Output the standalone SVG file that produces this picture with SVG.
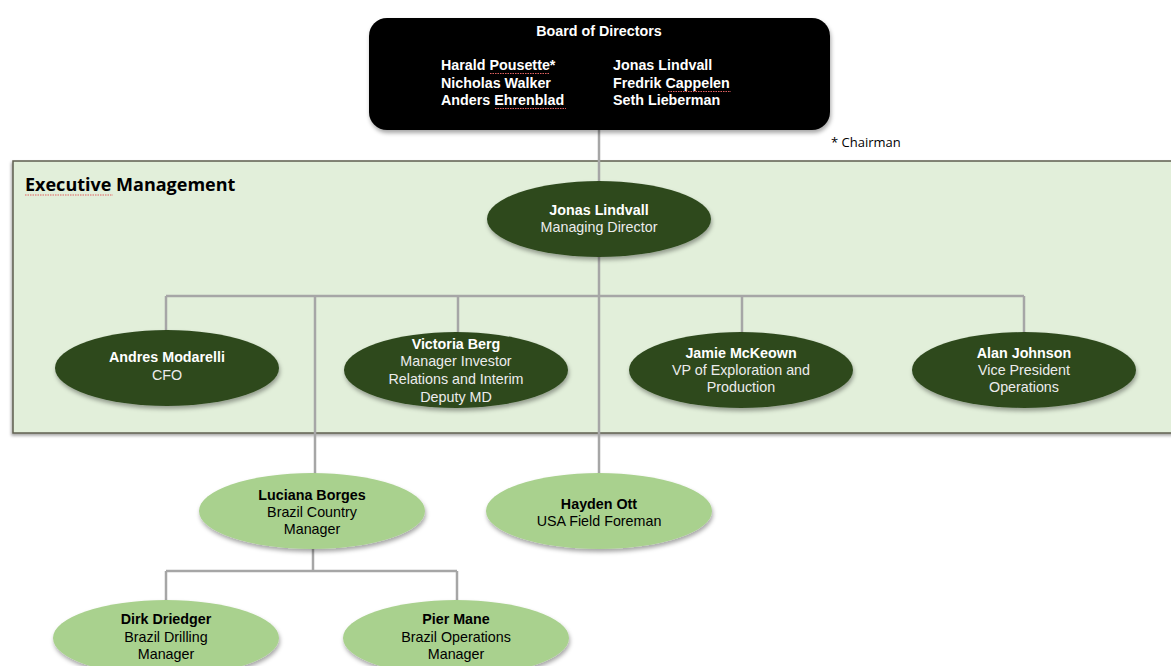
<svg xmlns="http://www.w3.org/2000/svg" width="1171" height="666" viewBox="0 0 1171 666">
<defs>
<filter id="sh" x="-20%" y="-20%" width="140%" height="150%">
<feDropShadow dx="1" dy="3" stdDeviation="2" flood-color="#000" flood-opacity="0.35"/>
</filter>
<filter id="psh" x="-5%" y="-5%" width="110%" height="115%">
<feDropShadow dx="-1" dy="2" stdDeviation="1.5" flood-color="#000" flood-opacity="0.35"/>
</filter>
</defs>
<style>
.t{font-family:"Liberation Sans",Arial,sans-serif;font-size:14.3px;text-anchor:middle}
.b{font-weight:bold}
.dk{fill:#2f4a1f;filter:url(#sh)}
.lt{fill:#a9d18e;filter:url(#sh)}
.w{fill:#ffffff}
.wt{fill:#ececec}
.k{fill:#000}
.c{fill:none;stroke:#a6a6a6;stroke-width:2.5}
.sq{fill:none;stroke:#e06060;stroke-width:1;stroke-dasharray:1.5 1}
.bd{font-family:"Liberation Sans",Arial,sans-serif;font-size:14.3px;font-weight:bold;fill:#fff}
</style>
<rect width="1171" height="666" fill="#fff"/>
<g id="exec-panel">
<rect x="13" y="161" width="1170" height="272" fill="#e2efda" stroke="#5f5f50" stroke-width="1.5" filter="url(#psh)"/>
<text x="25" y="191" font-family="'Open Sans',Lato,sans-serif" font-size="18" font-weight="bold" fill="#000">Executive Management</text>
<path class="sq" d="M25 195 H113"/>
</g>
<g id="connectors">
<path class="c" d="M599 130 V182"/>
<path class="c" d="M599 257 V474"/>
<path class="c" d="M166 296 H1024"/>
<path class="c" d="M166 296 V331"/>
<path class="c" d="M458 296 V333"/>
<path class="c" d="M742 296 V333"/>
<path class="c" d="M1024 296 V333"/>
<path class="c" d="M315 296 V475"/>
<path class="c" d="M313 549 V571"/>
<path class="c" d="M166 571 H457"/>
<path class="c" d="M166 571 V601"/>
<path class="c" d="M457 571 V601"/>
</g>
<g id="board">
<rect x="369" y="18" width="461" height="112" rx="18" ry="18" fill="#000" filter="url(#sh)"/>
<text class="bd" x="599" y="36" text-anchor="middle">Board of Directors</text>
<text class="bd" x="441" y="70">Harald Pousette*</text>
<text class="bd" x="441" y="88">Nicholas Walker</text>
<text class="bd" x="441" y="105">Anders Ehrenblad</text>
<text class="bd" x="613" y="70">Jonas Lindvall</text>
<text class="bd" x="613" y="88">Fredrik Cappelen</text>
<text class="bd" x="613" y="105">Seth Lieberman</text>
<path class="sq" d="M490 73.5 H550 M495 108.5 H566 M668 91.5 H731"/>
</g>
<g id="chairman-note">
<text x="831" y="147" font-family="'Open Sans',Lato,sans-serif" font-size="13" fill="#000">* Chairman</text>
</g>
<g id="md">
<ellipse class="dk" cx="599" cy="219" rx="112" ry="38"/>
<text class="t b w" x="599" y="215">Jonas Lindvall</text>
<text class="t wt" x="599" y="232">Managing Director</text>
</g>
<g id="cfo">
<ellipse class="dk" cx="167" cy="368" rx="112" ry="38"/>
<text class="t b w" x="167" y="362">Andres Modarelli</text>
<text class="t wt" x="167" y="380">CFO</text>
</g>
<g id="ir">
<ellipse class="dk" cx="456" cy="370" rx="112" ry="38"/>
<text class="t b w" x="456" y="349">Victoria Berg</text>
<text class="t wt" x="456" y="366">Manager Investor</text>
<text class="t wt" x="456" y="384">Relations and Interim</text>
<text class="t wt" x="456" y="402">Deputy MD</text>
</g>
<g id="vp-ep">
<ellipse class="dk" cx="741" cy="370" rx="112" ry="38"/>
<text class="t b w" x="741" y="358">Jamie McKeown</text>
<text class="t wt" x="741" y="375">VP of Exploration and</text>
<text class="t wt" x="741" y="392">Production</text>
</g>
<g id="vp-ops">
<ellipse class="dk" cx="1024" cy="370" rx="112" ry="38"/>
<text class="t b w" x="1024" y="358">Alan Johnson</text>
<text class="t wt" x="1024" y="375">Vice President</text>
<text class="t wt" x="1024" y="392">Operations</text>
</g>
<g id="brazil-cm">
<ellipse class="lt" cx="312" cy="511" rx="113" ry="38"/>
<text class="t b k" x="312" y="500">Luciana Borges</text>
<text class="t k" x="312" y="517">Brazil Country</text>
<text class="t k" x="312" y="534">Manager</text>
</g>
<g id="usa-ff">
<ellipse class="lt" cx="599" cy="511" rx="113" ry="38"/>
<text class="t b k" x="599" y="509">Hayden Ott</text>
<text class="t k" x="599" y="526">USA Field Foreman</text>
</g>
<g id="brazil-dm">
<ellipse class="lt" cx="166" cy="638" rx="113" ry="38"/>
<text class="t b k" x="166" y="624">Dirk Driedger</text>
<text class="t k" x="166" y="642">Brazil Drilling</text>
<text class="t k" x="166" y="659">Manager</text>
</g>
<g id="brazil-om">
<ellipse class="lt" cx="456" cy="638" rx="113" ry="38"/>
<text class="t b k" x="456" y="624">Pier Mane</text>
<text class="t k" x="456" y="642">Brazil Operations</text>
<text class="t k" x="456" y="659">Manager</text>
</g>
</svg>
